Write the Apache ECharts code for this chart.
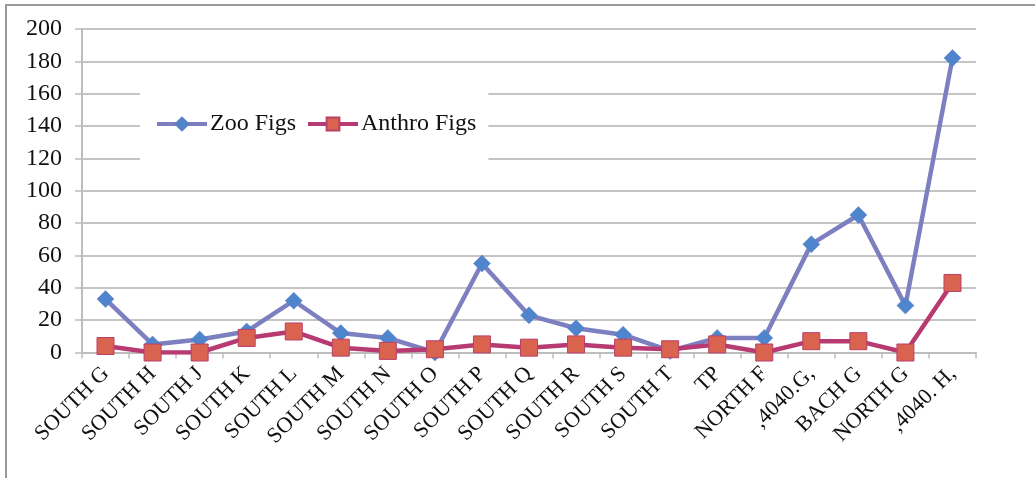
<!DOCTYPE html>
<html>
<head>
<meta charset="utf-8">
<script src="https://cdn.jsdelivr.net/npm/echarts@6/dist/echarts.min.js"></script>
<style>
  html, body { margin: 0; padding: 0; background: #fff; }
  #frame { position: absolute; left: 5px; top: 4px; width: 1100px; height: 600px;
           border-left: 2px solid #9a9a9a; border-top: 2px solid #9a9a9a; box-sizing: border-box; }
  #chart { position: absolute; left: 0; top: 0; width: 1035px; height: 478px; }
</style>
</head>
<body>
<div id="frame"></div>
<div id="chart"></div>
<script>
// Figure counts per excavation unit
const units = ['SOUTH G', 'SOUTH H', 'SOUTH J', 'SOUTH K', 'SOUTH L', 'SOUTH M', 'SOUTH N',
  'SOUTH O', 'SOUTH P', 'SOUTH Q', 'SOUTH R', 'SOUTH S', 'SOUTH T', 'TP', 'NORTH F',
  ',4040.G,', 'BACH G', 'NORTH G', ',4040. H,'];
const zooFigs = [33, 5, 8, 13, 32, 12, 9, 0, 55, 23, 15, 11, 1, 9, 9, 67, 85, 29, 182];
const anthroFigs = [4, 0, 0, 9, 13, 3, 1, 2, 5, 3, 5, 3, 2, 5, 0, 7, 7, 0, 43];
const yTicks = { min: 0, max: 200, step: 20 };

const serif = '"Liberation Serif", "DejaVu Serif", serif';
const chart = echarts.init(document.getElementById('chart'));
chart.setOption({
  animation: false,
  backgroundColor: 'transparent',
  grid: { left: 82, right: 59, top: 29, bottom: 125.5, containLabel: false },
  legend: {
    left: 140, top: 88,
    padding: [24, 12, 38, 15],
    backgroundColor: '#fff',
    itemWidth: 50, itemHeight: 16, itemGap: 10,
    lineStyle: { width: 4 },
    textStyle: { fontFamily: serif, fontSize: 24, color: '#111', padding: [0, 0, 0, -2] },
    data: ['Zoo Figs', 'Anthro Figs']
  },
  xAxis: {
    type: 'category',
    data: units,
    boundaryGap: true,
    axisLine: { lineStyle: { color: '#bdbdbd', width: 2 } },
    axisTick: { show: true, length: 6, lineStyle: { color: '#bdbdbd', width: 1.5 } },
    axisLabel: { rotate: 45, margin: 18, fontFamily: serif, fontSize: 22, color: '#111', interval: 0 }
  },
  yAxis: {
    type: 'value',
    min: yTicks.min, max: yTicks.max, interval: yTicks.step,
    axisLine: { show: true, lineStyle: { color: '#bdbdbd', width: 2 } },
    axisTick: { show: true, length: 7, lineStyle: { color: '#bdbdbd', width: 1.5 } },
    splitLine: { lineStyle: { color: '#c4c4c4', width: 2 } },
    axisLabel: { margin: 20, fontFamily: serif, fontSize: 24, color: '#111' }
  },
  series: [
    {
      name: 'Zoo Figs', type: 'line', data: zooFigs,
      symbol: 'diamond', symbolSize: 17,
      lineStyle: { color: '#7d80c0', width: 4.5 },
      itemStyle: { color: '#4f85cc', borderColor: '#5b7fc2', borderWidth: 0.5 },
      z: 2
    },
    {
      name: 'Anthro Figs', type: 'line', data: anthroFigs,
      symbol: 'rect', symbolSize: 17,
      lineStyle: { color: '#b83a72', width: 4.5 },
      itemStyle: { color: '#d9634f', borderColor: '#b8406a', borderWidth: 1 },
      z: 3
    }
  ]
});
</script>
</body>
</html>
